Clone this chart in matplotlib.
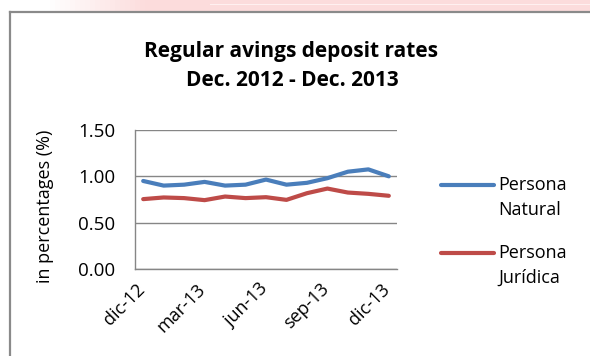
import matplotlib
matplotlib.use("Agg")
import matplotlib.pyplot as plt
from matplotlib.lines import Line2D
from matplotlib.patches import Rectangle
import numpy as np

months = ["dic-12", "ene-13", "feb-13", "mar-13", "abr-13", "may-13", "jun-13",
          "jul-13", "ago-13", "sep-13", "oct-13", "nov-13", "dic-13"]
natural = [0.95, 0.90, 0.91, 0.94, 0.90, 0.91, 0.965, 0.91, 0.93, 0.98, 1.05, 1.075, 1.00]
juridica = [0.754, 0.772, 0.765, 0.743, 0.782, 0.765, 0.775, 0.746, 0.818, 0.868, 0.825, 0.811, 0.790]
series_names = [["Persona", "Natural"], ["Persona", "Jurídica"]]
series_colors = ['#4A7EBB', '#BE4B48']
tick_idx = [0, 3, 6, 9, 12]
yticks = [0.0, 0.5, 1.0, 1.5]

plt.rcParams['font.family'] = ['Open Sans', 'DejaVu Sans']

W, H = 590, 356
fig = plt.figure(figsize=(W / 100, H / 100), dpi=100)

# pink band at top (part of screenshot)
for i in range(20):
    x0 = 50 + i * 5
    fig.patches.append(Rectangle((x0 / W, 1 - 11 / H), 5 / W, 11 / H,
                                 transform=fig.transFigure, color='#fcdcdc',
                                 alpha=(i + 1) / 20, lw=0))
fig.patches.append(Rectangle((150 / W, 1 - 11 / H), (W - 150) / W, 11 / H,
                             transform=fig.transFigure, color='#fcdcdc', lw=0))
fig.patches.append(Rectangle((210 / W, 1 - 5 / H), (W - 210) / W, 1.5 / H,
                             transform=fig.transFigure, color='#fff0f0', lw=0))

# chart frame
fig.lines.append(Line2D([10 / W, 10 / W], [0, 1 - 12 / H], transform=fig.transFigure,
                        color='#8a8a8a', lw=1.6))
fig.lines.append(Line2D([10 / W, 1], [1 - 12 / H, 1 - 12 / H], transform=fig.transFigure,
                        color='#8a8a8a', lw=1.6))

ax = fig.add_axes([135 / W, 1 - 269 / H, (397 - 135) / W, (269 - 130) / H])
x = np.arange(len(months))
ax.plot(x, natural, color=series_colors[0], lw=3, solid_capstyle='round')
ax.plot(x, juridica, color=series_colors[1], lw=3, solid_capstyle='round')

ax.set_xlim(-0.4, 12.4)
ax.set_ylim(0, 1.5)
ax.set_yticks(yticks)
ax.set_yticklabels([f"{v:.2f}" for v in yticks], fontsize=13.5)
ax.set_xticks(tick_idx)
ax.set_xticklabels([months[i] for i in tick_idx], fontsize=13, rotation=45,
                   ha='right', va='top', rotation_mode='default')
ax.tick_params(axis='y', length=0, pad=14)
ax.tick_params(axis='x', length=0, pad=8)
for lbl in ax.get_xticklabels():
    lbl.set_x(lbl.get_position()[0])
ax.grid(axis='y', color='#868686', lw=1)
for s in ['top', 'right']:
    ax.spines[s].set_visible(False)
for s in ['left', 'bottom']:
    ax.spines[s].set_color('#868686')
    ax.spines[s].set_linewidth(1)
ax.set_axisbelow(True)

# shift x labels a few pixels right (Excel anchors label corner just right of the tick)
import matplotlib.transforms as mtransforms
offset = mtransforms.ScaledTranslation(5 / 100, 0, fig.dpi_scale_trans)
for lbl in ax.get_xticklabels():
    lbl.set_transform(lbl.get_transform() + offset)

fig.text(45 / W, 1 - 206 / H, "in percentages (%)", rotation=90, ha='center', va='center',
         fontsize=13)

fig.text(291 / W, 1 - 52 / H, "Regular avings deposit rates", ha='center', va='center',
         fontsize=15, fontweight='bold')
fig.text(292 / W, 1 - 81 / H, "Dec. 2012 - Dec. 2013", ha='center', va='center',
         fontsize=15, fontweight='bold')

# legend (Excel style: line aligned with first text line)
for k, (names, col) in enumerate(zip(series_names, series_colors)):
    y0 = 185 + k * 68
    fig.lines.append(Line2D([441 / W, 494 / W], [1 - y0 / H, 1 - y0 / H],
                            transform=fig.transFigure, color=col, lw=3,
                            solid_capstyle='round'))
    fig.text(498 / W, 1 - y0 / H, names[0], ha='left', va='center', fontsize=13)
    fig.text(498 / W, 1 - (y0 + 25) / H, names[1], ha='left', va='center', fontsize=13)

fig.savefig("out.png", dpi=100)
